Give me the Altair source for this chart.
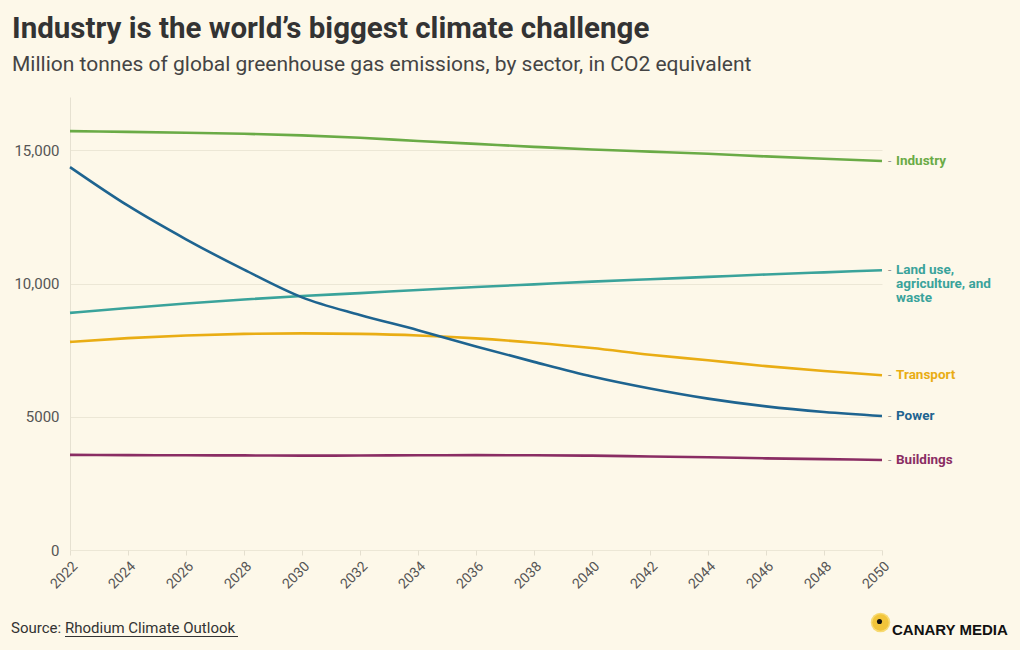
import altair as alt
import pandas as pd

# ---- data (million tonnes CO2e) ----
years = list(range(2022, 2051, 2))
sectors = ["Industry", "Land use, agriculture, and waste", "Transport", "Power", "Buildings"]
industry = [15720, 15690, 15660, 15620, 15560, 15470, 15350, 15240, 15130, 15030, 14950, 14870, 14770, 14680, 14600]
land_use = [8900, 9080, 9250, 9400, 9530, 9640, 9760, 9870, 9970, 10070, 10160, 10250, 10340, 10420, 10500]
transport = [7810, 7950, 8050, 8110, 8130, 8110, 8050, 7940, 7780, 7580, 7330, 7120, 6900, 6720, 6560]
power = [14370, 12920, 11660, 10520, 9480, 8820, 8250, 7640, 7060, 6510, 6060, 5680, 5390, 5180, 5030]
buildings = [3570, 3560, 3555, 3550, 3540, 3545, 3555, 3560, 3555, 3540, 3510, 3480, 3440, 3410, 3380]
label_texts = ["Industry", "Land use,\nagriculture, and\nwaste", "Transport", "Power", "Buildings"]
colors = ["#6aab46", "#3aa39b", "#e9ad14", "#1e6490", "#8a2d63"]
y_ticks = [0, 5000, 10000, 15000]

title = "Industry is the world\u2019s biggest climate challenge"
subtitle = "Million tonnes of global greenhouse gas emissions, by sector, in CO2 equivalent"

series = [industry, land_use, transport, power, buildings]
rows = []
for s, vals in zip(sectors, series):
    for y, v in zip(years, vals):
        rows.append({"sector": s, "year": y, "value": v})
df = pd.DataFrame(rows)

lab = pd.DataFrame({
    "sector": sectors,
    "year": [years[-1]] * len(sectors),
    "value": [vals[-1] for vals in series],
    "label": label_texts,
})

color_scale = alt.Scale(domain=sectors, range=colors)
FONT = "Roboto"

x_enc = alt.X(
    "year:Q",
    title=None,
    scale=alt.Scale(domain=[2022, 2050], nice=False),
    axis=alt.Axis(
        values=years, format="d", labelAngle=-45, grid=False, domain=False,
        ticks=True, tickColor="#e4dfcf", tickSize=5, labelFontSize=14,
        labelColor="#555555", labelFont=FONT, labelPadding=4,
    ),
)
y_enc = alt.Y(
    "value:Q",
    title=None,
    scale=alt.Scale(domain=[0, 17000], nice=False),
    axis=alt.Axis(
        values=y_ticks, grid=True, gridColor="#ece7d6", domain=True,
        domainColor="#e6e1d1", ticks=False, labelPadding=11, labelFontSize=15,
        labelColor="#555555", labelFont=FONT,
        labelExpr="datum.value >= 10000 ? format(datum.value, ',') : format(datum.value, 'd')",
    ),
)

lines = alt.Chart(df).mark_line(strokeWidth=2.6, interpolate="monotone").encode(
    x=x_enc, y=y_enc,
    color=alt.Color("sector:N", scale=color_scale, legend=None),
)

dashes = alt.Chart(lab).mark_text(
    text="-", align="left", baseline="middle", dx=6, fontSize=12, color="#9a9a9a", font=FONT
).encode(x="year:Q", y="value:Q")

labels = alt.Chart(lab).mark_text(
    align="left", baseline="middle", dx=14, fontSize=13.5, fontWeight="bold",
    font=FONT, lineBreak="\n", lineHeight=14,
).encode(
    x="year:Q", y="value:Q", text="label:N",
    color=alt.Color("sector:N", scale=color_scale, legend=None),
)

def txt(t, x, y, size, weight="normal", color="#333333", font=FONT):
    return alt.Chart(pd.DataFrame({"t": [t]})).mark_text(
        align="left", baseline="alphabetic", fontSize=size, fontWeight=weight,
        color=color, font=font,
    ).encode(x=alt.value(x), y=alt.value(y), text="t:N")

title_t = txt(title, -58, -59, 29.5, "bold", "#333333")
sub_t = txt(subtitle, -58, -26, 21, "normal", "#444444")
src1 = txt("Source:", -59, 536, 15, "normal", "#333333")
src2 = txt("Rhodium Climate Outlook", -5, 536, 15, "normal", "#333333")
underline = alt.Chart(pd.DataFrame({"a": [0]})).mark_rule(color="#333333", strokeWidth=1).encode(
    x=alt.value(-5), x2=alt.value(168), y=alt.value(539.5)
)

one = pd.DataFrame({"a": [0]})
halo = alt.Chart(one).mark_point(filled=True, size=380, color="#f7da72", opacity=1).encode(
    x=alt.value(810.5), y=alt.value(525.5))
disc = alt.Chart(one).mark_point(filled=True, size=270, color="#f2c53a", opacity=1).encode(
    x=alt.value(810.5), y=alt.value(525.5))
dot = alt.Chart(one).mark_point(filled=True, size=26, color="#111111", opacity=1).encode(
    x=alt.value(809.5), y=alt.value(524.5))
brand = txt("CANARY MEDIA", 822, 538, 15, "bold", "#111111", "Liberation Sans")

chart = alt.layer(
    lines, dashes, labels, title_t, sub_t, src1, src2, underline, halo, disc, dot, brand
).properties(
    width=812, height=453,
    padding={"left": 70, "top": 97, "right": 138, "bottom": 100},
    autosize=alt.AutoSizeParams(type="none"),
    background="#fdf8e9",
).configure_view(stroke=None)

chart.save("out.html", embed_options={"renderer": "svg", "actions": False})
